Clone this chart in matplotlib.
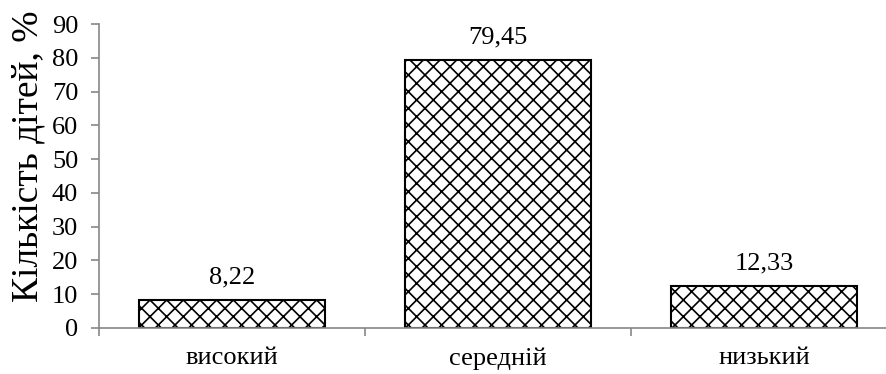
import matplotlib.pyplot as plt

plt.rcParams['font.family'] = ['Liberation Serif', 'DejaVu Serif']
plt.rcParams['hatch.linewidth'] = 1.2

levels = ['високий', 'середній', 'низький']
shares = [8.22, 79.45, 12.33]
value_labels = ['8,22', '79,45', '12,33']

fig = plt.figure(figsize=(8.87, 3.74), dpi=100)
ax = fig.add_axes([0.1116, 0.123, 0.8997, 0.8128])

x = range(len(levels))
bars = ax.bar(x, shares, width=0.70, color='white', edgecolor='black',
              linewidth=1.5, hatch='xx')

for b, txt in zip(bars, value_labels):
    ax.annotate(txt, (b.get_x() + b.get_width() / 2, b.get_height()),
                xytext=(0, 12), textcoords='offset points',
                ha='center', va='baseline', fontsize=19)

ax.set_xlim(-0.5, 2.5)
ax.set_ylim(0, 90)
ax.set_yticks(range(0, 91, 10))
ax.set_xticks(x)
ax.set_xticklabels(levels, fontsize=19)
ax.set_xticks([-0.5, 0.5, 1.5, 2.5], minor=True)
ax.tick_params(axis='x', which='major', length=0, pad=14)
ax.tick_params(axis='x', which='minor', length=6, color='#888888', width=1.2)
ax.tick_params(axis='y', labelsize=19, length=6, color='#888888', width=1.2, pad=9)
ax.set_ylabel('Кількість дітей, %', fontsize=27)
ax.yaxis.set_label_coords(-0.067, 0.565)

for side in ['top', 'right']:
    ax.spines[side].set_visible(False)
for side in ['left', 'bottom']:
    ax.spines[side].set_color('#888888')
    ax.spines[side].set_linewidth(1.2)

fig.savefig('out.png', dpi=100)
